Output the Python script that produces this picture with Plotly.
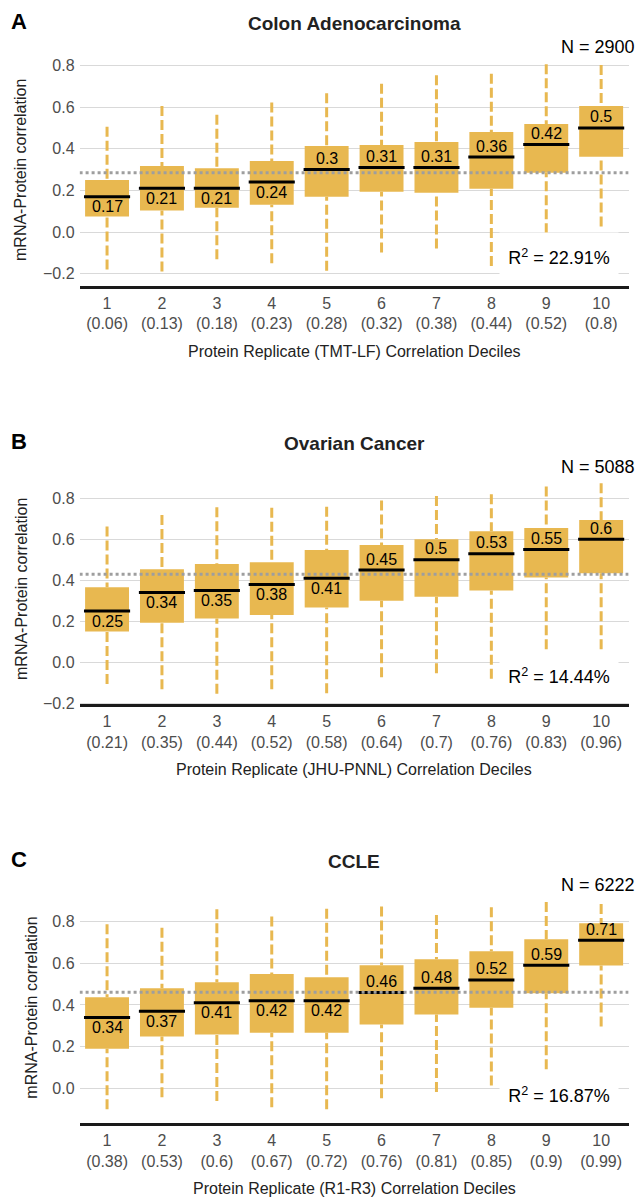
import plotly.graph_objects as go

# ---------------------------------------------------------------------------
# Box statistics per correlation decile (median, quartiles, whisker ends)
# ---------------------------------------------------------------------------
deciles = list(range(1, 11))

colon_cut = ["0.06", "0.13", "0.18", "0.23", "0.28", "0.32", "0.38", "0.44", "0.52", "0.8"]
colon_median = [0.17, 0.21, 0.21, 0.24, 0.30, 0.31, 0.31, 0.36, 0.42, 0.50]
colon_q1 = [0.074, 0.103, 0.117, 0.131, 0.170, 0.194, 0.189, 0.208, 0.285, 0.362]
colon_q3 = [0.250, 0.317, 0.306, 0.341, 0.413, 0.418, 0.433, 0.481, 0.519, 0.606]
colon_low = [-0.180, -0.190, -0.131, -0.150, -0.186, -0.098, -0.079, -0.163, -0.006, 0.026]
colon_high = [0.506, 0.606, 0.563, 0.622, 0.667, 0.712, 0.753, 0.760, 0.806, 0.803]
colon_overall = 0.285
colon_n = 2900
colon_r2 = 22.91

ovarian_cut = ["0.21", "0.35", "0.44", "0.52", "0.58", "0.64", "0.7", "0.76", "0.83", "0.96"]
ovarian_median = [0.25, 0.34, 0.35, 0.38, 0.41, 0.45, 0.50, 0.53, 0.55, 0.60]
ovarian_q1 = [0.150, 0.193, 0.213, 0.231, 0.267, 0.300, 0.320, 0.350, 0.413, 0.434]
ovarian_q3 = [0.366, 0.454, 0.480, 0.488, 0.548, 0.572, 0.600, 0.639, 0.655, 0.694]
ovarian_low = [-0.106, -0.132, -0.154, -0.132, -0.151, -0.073, -0.054, -0.080, 0.063, 0.063]
ovarian_high = [0.662, 0.719, 0.756, 0.754, 0.759, 0.789, 0.811, 0.820, 0.857, 0.873]
ovarian_overall = 0.429
ovarian_n = 5088
ovarian_r2 = 14.44

ccle_cut = ["0.38", "0.53", "0.6", "0.67", "0.72", "0.76", "0.81", "0.85", "0.9", "0.99"]
ccle_median = [0.34, 0.37, 0.41, 0.42, 0.42, 0.46, 0.48, 0.52, 0.59, 0.71]
ccle_q1 = [0.190, 0.248, 0.258, 0.267, 0.267, 0.306, 0.354, 0.387, 0.456, 0.589]
ccle_q3 = [0.437, 0.480, 0.509, 0.549, 0.533, 0.590, 0.619, 0.658, 0.715, 0.792]
ccle_low = [-0.100, -0.043, -0.061, -0.091, -0.100, -0.048, -0.018, 0.014, 0.091, 0.296]
ccle_high = [0.787, 0.771, 0.859, 0.824, 0.862, 0.872, 0.832, 0.869, 0.894, 0.885]
ccle_overall = 0.461
ccle_n = 6222
ccle_r2 = 16.87

y_ticks = [-0.2, 0.0, 0.2, 0.4, 0.6, 0.8]

# ---------------------------------------------------------------------------
# Styling / page geometry
# ---------------------------------------------------------------------------
W, H = 637, 1198
FONT = "Liberation Sans, Arial, Helvetica, sans-serif"
GOLD = "#E8B850"
GRID = "#d9d9d9"
REF = "#9e9e9e"
X_LEFT, X_RIGHT = 79.6, 628.6          # plot area in px
BOX_W = 0.8

panels = [
    dict(letter="A", title="Colon Adenocarcinoma",
         xlabel="Protein Replicate (TMT-LF) Correlation Deciles",
         cut=colon_cut, med=colon_median, q1=colon_q1, q3=colon_q3,
         lo=colon_low, hi=colon_high, ref=colon_overall, n=colon_n, r2=colon_r2,
         bottom=285.7, top=54.3, yrange=[-0.258, 0.854], ytitle_x=21),
    dict(letter="B", title="Ovarian Cancer",
         xlabel="Protein Replicate (JHU-PNNL) Correlation Deciles",
         cut=ovarian_cut, med=ovarian_median, q1=ovarian_q1, q3=ovarian_q3,
         lo=ovarian_low, hi=ovarian_high, ref=ovarian_overall, n=ovarian_n, r2=ovarian_r2,
         bottom=704.3, top=473.7, yrange=[-0.205, 0.92], ytitle_x=21),
    dict(letter="C", title="CCLE",
         xlabel="Protein Replicate (R1-R3) Correlation Deciles",
         cut=ccle_cut, med=ccle_median, q1=ccle_q1, q3=ccle_q3,
         lo=ccle_low, hi=ccle_high, ref=ccle_overall, n=ccle_n, r2=ccle_r2,
         bottom=1123.3, top=892.0, yrange=[-0.168, 0.942], ytitle_x=32),
]


def px_x(p):
    return p / W


def px_y(p):
    return 1 - p / H


def paper_text(x, y, text, size, color="black", xanchor="center", **kw):
    return dict(x=px_x(x), y=px_y(y), xref="paper", yref="paper", text=text,
                showarrow=False, xanchor=xanchor, yanchor="middle",
                font=dict(family=FONT, size=size, color=color), **kw)


fig = go.Figure()
annotations = []
layout = {}

for k, p in enumerate(panels, start=1):
    xa = "x" if k == 1 else f"x{k}"
    ya = "y" if k == 1 else f"y{k}"
    xkey = "xaxis" if k == 1 else f"xaxis{k}"
    ykey = "yaxis" if k == 1 else f"yaxis{k}"

    # whiskers: dashed segments outside the boxes
    wx, wy = [], []
    for i, lo, a, b, hi in zip(deciles, p["lo"], p["q1"], p["q3"], p["hi"]):
        wx += [i, i, None, i, i, None]
        wy += [lo, a, None, hi, b, None]
    fig.add_trace(go.Scatter(x=wx, y=wy, mode="lines", xaxis=xa, yaxis=ya,
                             line=dict(color=GOLD, width=3, dash="10px,4px"),
                             hoverinfo="skip"))

    # interquartile boxes
    fig.add_trace(go.Bar(x=deciles, y=[b - a for a, b in zip(p["q1"], p["q3"])],
                         base=p["q1"], width=BOX_W, xaxis=xa, yaxis=ya,
                         marker=dict(color=GOLD, line=dict(width=0))))

    # median bars
    mx, my = [], []
    for i, m in zip(deciles, p["med"]):
        mx += [i - BOX_W / 2 - 0.02, i + BOX_W / 2 + 0.02, None]
        my += [m, m, None]
    fig.add_trace(go.Scatter(x=mx, y=my, mode="lines", xaxis=xa, yaxis=ya,
                             line=dict(color="black", width=3), hoverinfo="skip"))

    # overall median reference line
    fig.add_trace(go.Scatter(x=[0.5, 10.5], y=[p["ref"], p["ref"]], mode="lines",
                             xaxis=xa, yaxis=ya,
                             line=dict(color=REF, width=3, dash="3px,3px"),
                             hoverinfo="skip"))

    dom = [px_y(p["bottom"]), px_y(p["top"])]
    layout[xkey] = dict(
        domain=[px_x(X_LEFT), px_x(X_RIGHT)], range=[0.5, 10.5], anchor=ya,
        tickvals=deciles,
        ticktext=[f"{i}<br>({c})" for i, c in zip(deciles, p["cut"])],
        showgrid=False, zeroline=False, showline=True, linecolor="#1a1a1a",
        linewidth=2.5, ticks="", tickfont=dict(family=FONT, size=16, color="#4d4d4d"),
        ticklabelstandoff=1, automargin=False, fixedrange=True)
    layout[ykey] = dict(
        domain=dom, range=p["yrange"], anchor=xa, tickvals=y_ticks, tickformat=".1f",
        showgrid=True, gridcolor=GRID, gridwidth=1.2, zeroline=False, showline=False,
        ticks="", tickfont=dict(family=FONT, size=16, color="#4d4d4d"),
        ticklabelstandoff=4, automargin=False, fixedrange=True)

    # median value labels
    for i, m in zip(deciles, p["med"]):
        above = m >= p["ref"] - 0.005
        annotations.append(dict(x=i, y=m, xref=xa, yref=ya, text=f"{m:g}",
                                showarrow=False, xanchor="center", yanchor="middle",
                                yshift=11 if above else -10,
                                font=dict(family=FONT, size=16, color="black")))

    cx = (X_LEFT + X_RIGHT) / 2
    title_y = p["top"] - 30.5
    annotations += [
        paper_text(19, title_y - 2, f"<b>{p['letter']}</b>", 22),
        paper_text(cx, title_y, f"<b>{p['title']}</b>", 19, "#222222"),
        paper_text(W, p["top"] - 7, f"N = {p['n']}", 18, xanchor="right"),
        paper_text(559, p["bottom"] - 28.5, f"R<sup>2</sup> = {p['r2']:.2f}%", 18,
                   width=118, height=48, bgcolor="white", borderpad=0),
        paper_text(cx, p["bottom"] + 65.5, p["xlabel"], 16, "#222222"),
        paper_text(p["ytitle_x"], (p["top"] + p["bottom"]) / 2,
                   "mRNA-Protein correlation", 16, "#222222", textangle=-90),
    ]

fig.update_layout(
    template="none",
    width=W, height=H, margin=dict(l=0, r=0, t=0, b=0, pad=0, autoexpand=False),
    paper_bgcolor="white", plot_bgcolor="white", showlegend=False,
    barmode="overlay", annotations=annotations, **layout)

fig.write_html("out.html")
